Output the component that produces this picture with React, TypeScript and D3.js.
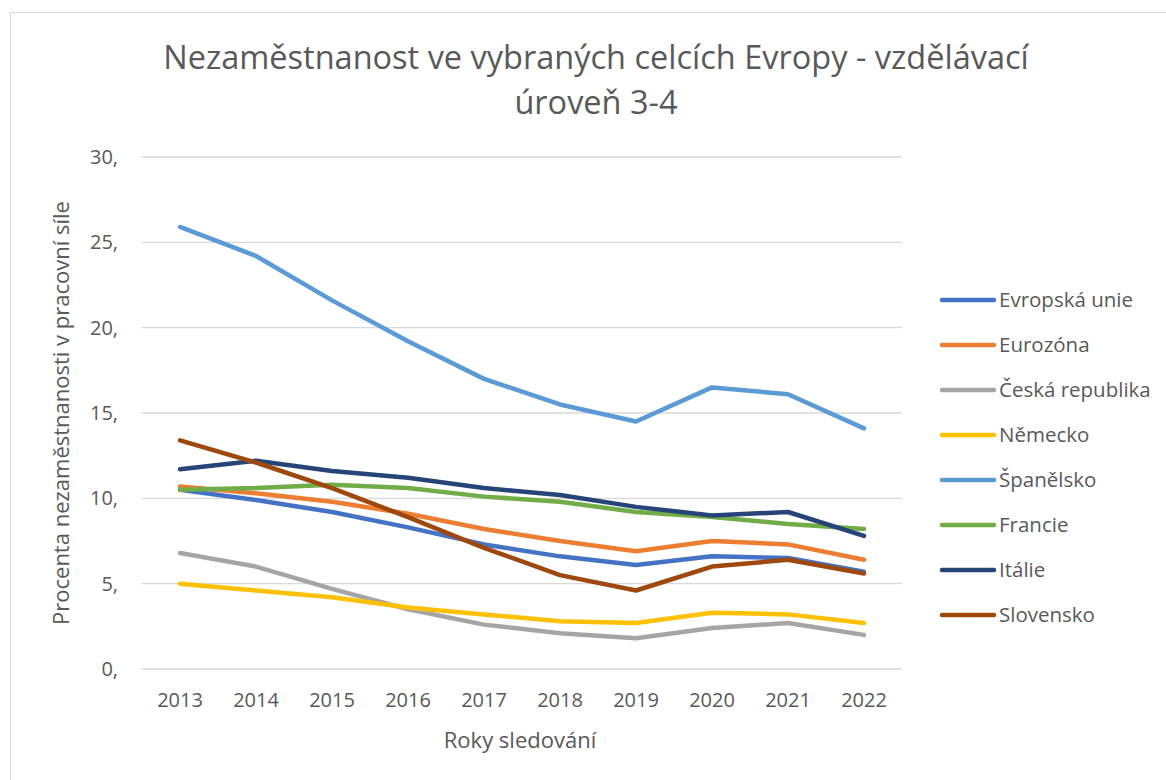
import { useEffect, useRef } from "react";
import * as d3 from "d3";

const years = ["2013", "2014", "2015", "2016", "2017", "2018", "2019", "2020", "2021", "2022"];
const yTicks = [0, 5, 10, 15, 20, 25, 30];

const seriesNames = [
  "Evropská unie",
  "Eurozóna",
  "Česká republika",
  "Německo",
  "Španělsko",
  "Francie",
  "Itálie",
  "Slovensko",
];
const seriesColors = ["#4472C4", "#ED7D31", "#A5A5A5", "#FFC000", "#5B9BD5", "#70AD47", "#264478", "#9E480E"];

const evropskaUnie = [10.5, 9.9, 9.2, 8.3, 7.3, 6.6, 6.1, 6.6, 6.5, 5.7];
const eurozona = [10.7, 10.3, 9.8, 9.1, 8.2, 7.5, 6.9, 7.5, 7.3, 6.4];
const ceskaRepublika = [6.8, 6.0, 4.7, 3.5, 2.6, 2.1, 1.8, 2.4, 2.7, 2.0];
const nemecko = [5.0, 4.6, 4.2, 3.6, 3.2, 2.8, 2.7, 3.3, 3.2, 2.7];
const spanelsko = [25.9, 24.2, 21.6, 19.2, 17.0, 15.5, 14.5, 16.5, 16.1, 14.1];
const francie = [10.5, 10.6, 10.8, 10.6, 10.1, 9.8, 9.2, 8.9, 8.5, 8.2];
const italie = [11.7, 12.2, 11.6, 11.2, 10.6, 10.2, 9.5, 9.0, 9.2, 7.8];
const slovensko = [13.4, 12.1, 10.6, 8.9, 7.1, 5.5, 4.6, 6.0, 6.4, 5.6];

const seriesValues = [evropskaUnie, eurozona, ceskaRepublika, nemecko, spanelsko, francie, italie, slovensko];

const FONT = "'Open Sans', 'Noto Sans', sans-serif";
const TEXT = "#595959";

export default function App() {
  const ref = useRef<SVGSVGElement>(null);

  useEffect(() => {
    const width = 1166;
    const height = 780;
    const plot = { left: 142, right: 902, top: 157, bottom: 669 };

    const svg = d3.select(ref.current);
    svg.selectAll("*").remove();

    svg.append("rect").attr("width", width).attr("height", height).attr("fill", "#fff");
    svg
      .append("rect")
      .attr("x", 10.5)
      .attr("y", 12.5)
      .attr("width", width)
      .attr("height", height)
      .attr("fill", "none")
      .attr("stroke", "#D9D9D9")
      .attr("stroke-width", 1);

    const x = d3.scaleBand().domain(years).range([plot.left, plot.right]);
    const y = d3.scaleLinear().domain([0, 30]).range([plot.bottom, plot.top]);

    // gridlines
    svg
      .append("g")
      .selectAll("line")
      .data(yTicks)
      .join("line")
      .attr("x1", plot.left)
      .attr("x2", plot.right)
      .attr("y1", (d) => y(d))
      .attr("y2", (d) => y(d))
      .attr("stroke", "#D9D9D9")
      .attr("stroke-width", 1.3);

    // y tick labels
    svg
      .append("g")
      .selectAll("text")
      .data(yTicks)
      .join("text")
      .attr("x", 118)
      .attr("y", (d) => y(d))
      .attr("dy", "0.35em")
      .attr("text-anchor", "end")
      .attr("font-family", FONT)
      .attr("font-size", 20)
      .attr("fill", TEXT)
      .text((d) => `${d},`);

    // x tick labels
    svg
      .append("g")
      .selectAll("text")
      .data(years)
      .join("text")
      .attr("x", (d) => x(d)! + x.bandwidth() / 2)
      .attr("y", 707)
      .attr("text-anchor", "middle")
      .attr("font-family", FONT)
      .attr("font-size", 20)
      .attr("fill", TEXT)
      .text((d) => d);

    // lines
    const line = d3
      .line<number>()
      .x((_, i) => x(years[i])! + x.bandwidth() / 2)
      .y((d) => y(d));

    svg
      .append("g")
      .selectAll("path")
      .data(seriesValues)
      .join("path")
      .attr("d", (d) => line(d))
      .attr("fill", "none")
      .attr("stroke", (_, i) => seriesColors[i])
      .attr("stroke-width", 4.5)
      .attr("stroke-linecap", "round")
      .attr("stroke-linejoin", "round");

    // title
    const title = svg
      .append("text")
      .attr("text-anchor", "middle")
      .attr("font-family", FONT)
      .attr("font-size", 32.5)
      .attr("fill", TEXT);
    title.append("tspan").attr("x", 596).attr("y", 69).text("Nezaměstnanost ve vybraných celcích Evropy - vzdělávací");
    title.append("tspan").attr("x", 596).attr("y", 114).text("úroveň 3-4");

    // axis titles
    svg
      .append("text")
      .attr("transform", `translate(69,${(plot.top + plot.bottom) / 2}) rotate(-90)`)
      .attr("text-anchor", "middle")
      .attr("font-family", FONT)
      .attr("font-size", 22)
      .attr("fill", TEXT)
      .text("Procenta nezaměstnanosti v pracovní síle");

    svg
      .append("text")
      .attr("x", 520)
      .attr("y", 748)
      .attr("text-anchor", "middle")
      .attr("font-family", FONT)
      .attr("font-size", 22)
      .attr("fill", TEXT)
      .text("Roky sledování");

    // legend
    const legend = svg
      .append("g")
      .selectAll("g")
      .data(seriesNames)
      .join("g")
      .attr("transform", (_, i) => `translate(942,${300 + i * 45})`);
    legend
      .append("line")
      .attr("x1", 0)
      .attr("x2", 52)
      .attr("stroke", (_, i) => seriesColors[i])
      .attr("stroke-width", 4.5)
      .attr("stroke-linecap", "round");
    legend
      .append("text")
      .attr("x", 57)
      .attr("dy", "0.35em")
      .attr("font-family", FONT)
      .attr("font-size", 20.5)
      .attr("fill", TEXT)
      .text((d) => d);
  }, []);

  return (
    <svg
      ref={ref}
      width={1166}
      height={780}
      style={{ position: "absolute", left: 0, top: 0, display: "block" }}
    />
  );
}
